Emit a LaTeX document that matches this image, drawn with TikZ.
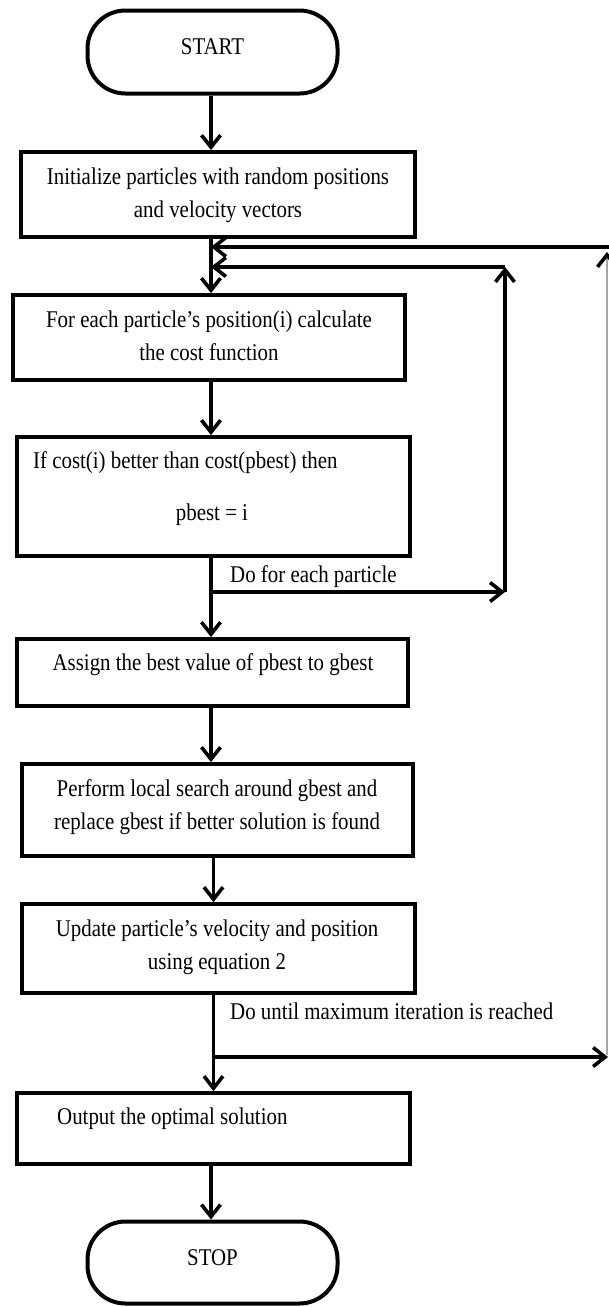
\documentclass[tikz,border=0pt]{standalone}
\usepackage{fontspec}
\setmainfont{Liberation Serif}[FakeStretch=0.87]
\usetikzlibrary{arrows.meta}
\tikzset{
  boxnode/.style={draw, line width=3.8pt, inner sep=0pt, fill=white},
  termnode/.style={draw, line width=4pt, inner sep=0pt, rounded corners=38pt, minimum width=250pt, minimum height=83pt},
  txt/.style={inner sep=0pt, font=\fontsize{24}{33}\selectfont, text height=16.3pt, text depth=5.3pt},
  mtxt/.style={inner sep=0pt, font=\fontsize{24}{33}\selectfont, align=center},
  arr/.style={line width=3.6pt, -{Straight Barb[length=12pt, width=19pt]}},
  faint/.style={line width=1.4pt, draw=black!35, -{Straight Barb[length=12pt, width=19pt, color=black, line width=3.6pt]}}
}
\begin{document}
\begin{tikzpicture}[x=1pt, y=-1pt]
\useasboundingbox (0,0) rectangle (609,1307);

% terminals and boxes
\node[termnode] (start) at (212.5,52) {};
\node[boxnode, minimum width=394pt, minimum height=85pt] (init) at (218,194.5) {};
\node[boxnode, minimum width=392pt, minimum height=85pt] (for) at (209,337.5) {};
\node[boxnode, minimum width=393pt, minimum height=119pt] (if) at (213.5,496.5) {};
\node[boxnode, minimum width=391pt, minimum height=67pt] (assign) at (212.5,672.5) {};
\node[boxnode, minimum width=391pt, minimum height=92pt] (perform) at (217.5,810) {};
\node[boxnode, minimum width=393pt, minimum height=89pt] (update) at (218.5,948.5) {};
\node[boxnode, minimum width=393pt, minimum height=71pt] (output) at (213.5,1128.5) {};
\node[termnode, minimum height=82pt] (stop) at (212.5,1262.5) {};

% texts
\node[txt] (tstart) at (212.5,49) {START};
\node[mtxt] (tinit) at (218,195) {Initialize particles with random positions\\and velocity vectors};
\node[mtxt] (tfor) at (209,335.5) {For each particle’s position(i) calculate\\the cost function};
\node[txt, anchor=west] (tif1) at (33,463) {If cost(i) better than cost(pbest) then};
\node[txt] (tif2) at (212,515) {pbest = i};
\node[txt, anchor=west] (tdo1) at (230,577) {Do for each particle};
\node[txt] (tassign) at (213,665) {Assign the best value of pbest to gbest};
\node[mtxt] (tperf) at (217,807.5) {Perform local search around gbest and\\replace gbest if better solution is found};
\node[mtxt] (tupd) at (217,947.5) {Update particle’s velocity and position\\using equation 2};
\node[txt, anchor=west] (tdo2) at (230,1014) {Do until maximum iteration is reached};
\node[txt, anchor=west] (tout) at (57,1119) {Output the optimal solution};
\node[txt] (tstop) at (212.5,1260) {STOP};

% spine and loop coordinates
\coordinate (sp) at (211,0);
\coordinate (sq) at (213.5,0);
\coordinate (o1) at (615,247);
\coordinate (i1) at (505,267);
\coordinate (b1) at (211,592);
\coordinate (i2) at (505,592);
\coordinate (b2) at (213.5,1057);
\coordinate (o2) at (608,1057);
\coordinate (o3) at (607,1055);
\coordinate (o4) at (607,252);

% connectors
\draw[arr] (start.south -| sp) -- (init.north -| sp);
\draw[arr] (init.south -| sp) -- (for.north -| sp);
\draw[arr] (o1) -- (o1 -| sp);
\draw[arr] (i1) -- (i1 -| sp);
\draw[arr] (for.south -| sp) -- (if.north -| sp);
\draw[arr] (if.south -| sp) -- (assign.north -| sp);
\draw[arr] (b1) -- (i2);
\draw[arr] (i2) -- (i1);
\draw[arr] (assign.south -| sp) -- (perform.north -| sp);
\draw[arr] (perform.south -| sq) -- (update.north -| sq);
\draw[arr] (update.south -| sq) -- (output.north -| sq);
\draw[arr] (b2) -- (o2);
\draw[faint] (o3) -- (o4);
\draw[arr] (output.south -| sp) -- (stop.north -| sp);
\end{tikzpicture}
\end{document}
